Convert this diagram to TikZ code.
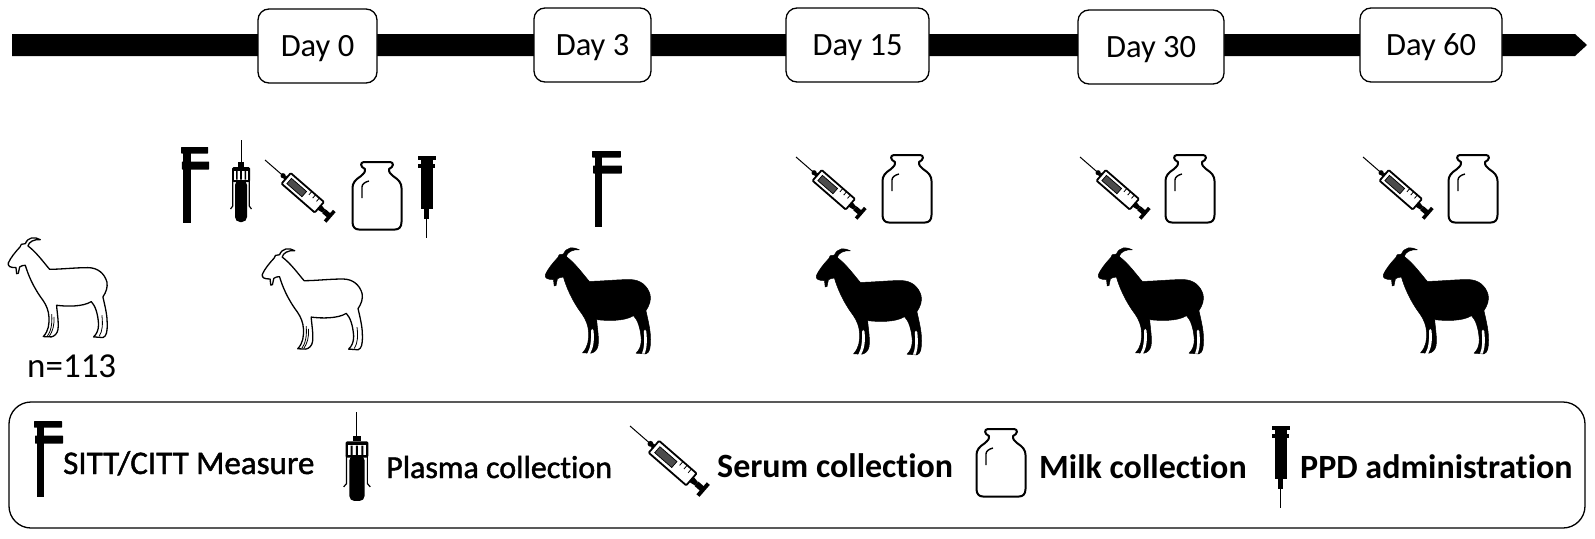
\documentclass[tikz,border=0pt]{standalone}
\usepackage{fontspec}
\setmainfont{Carlito}[Ligatures=NoCommon]
\newfontfamily\medfont{Carlito}[Ligatures=NoCommon,FakeBold=1.4]
\tikzset{
  daybox/.style={draw=black,line width=1.3pt,fill=white,rounded corners=11pt,inner sep=0pt,text height=26pt,text depth=6pt,font=\fontsize{32.5}{32.5}\selectfont},
  legendbox/.style={draw=black,line width=1.3pt,fill=white,rounded corners=22pt,inner sep=0pt},
  ltext/.style={anchor=base west,inner sep=0pt,text=black},
  goatline/.style={draw=black,line width=1.3pt,line join=round,fill=white},
  goatfill/.style={draw=black,line width=.5pt,line join=round,fill=black},
  iconline/.style={draw=black,line width=2pt,line join=round}
}
% goat outline, 300 x 300 units
\newcommand\goatpath{(97,8) .. controls (80,-2) and (60,0) .. (52,20) -- (40,22) -- (36,30)
  .. controls (22,45) and (8,62) .. (1,78) .. controls (-1,88) and (6,92) .. (24,92)
  -- (26,110) -- (31,109) -- (35,90) .. controls (40,86) and (46,85) .. (52,85)
  .. controls (60,112) and (75,150) .. (105,190) .. controls (116,206) and (122,222) .. (123,240)
  .. controls (124,262) and (122,282) .. (106,299) -- (130,300) .. controls (140,298) and (148,290) .. (150,278)
  .. controls (153,255) and (147,225) .. (146,205) .. controls (175,209) and (225,210) .. (250,194)
  .. controls (262,206) and (270,230) .. (272,262) .. controls (272,280) and (266,292) .. (257,300)
  -- (285,302) .. controls (296,298) and (298,285) .. (298,262) .. controls (298,240) and (295,222) .. (285,180)
  .. controls (295,165) and (300,150) .. (297,135) .. controls (290,110) and (270,92) .. (240,92)
  .. controls (200,92) and (160,97) .. (125,97) .. controls (110,80) and (85,45) .. (60,27)
  .. controls (62,15) and (78,6) .. (97,8) -- cycle}
\newcommand\goatwhite[3]{\begin{scope}[shift={(#1,#2)},scale=#3]
  \path[goatline] \goatpath;
  \draw[black,line width=.8pt] (131,232) .. controls (134,262) and (128,285) .. (118,298);
  \draw[black,line width=.8pt] (138,240) .. controls (140,262) and (134,285) .. (124,298);
  \draw[black,line width=.8pt] (282,235) .. controls (285,262) and (284,282) .. (274,298);
\end{scope}}
\newcommand\goatblack[3]{\begin{scope}[shift={(#1,#2)},scale=#3]
  \path[goatfill] \goatpath;
  \fill[white] (130,236) .. controls (131,262) and (129,285) .. (119,302) -- (127,302) .. controls (137,285) and (140,262) .. (137,236) .. controls (136,230) and (131,230) .. (130,236) -- cycle;
  \fill[white] (279,238) .. controls (281,265) and (281,285) .. (274,301) -- (282,301) .. controls (288,285) and (289,262) .. (286,238) .. controls (285,232) and (280,232) .. (279,238) -- cycle;
\end{scope}}
% clamp, 29 x 76
\newcommand\clampicon[4]{\begin{scope}[shift={(#1,#2)},xscale=#3,yscale=#4]
  \fill[black] (2.5,0) rectangle (10,76);
  \fill[black,rounded corners=.5pt] (0,0) rectangle (28,6.5);
  \fill[black,rounded corners=.5pt] (1,14.5) rectangle (29,22.5);
\end{scope}}
% tube, 22 x 82
\newcommand\tubeicon[4]{\begin{scope}[shift={(#1,#2)},xscale=#3,yscale=#4]
  \draw[black,line width=1pt] (11,0) -- (11,24);
  \fill[black] (8,22) -- (14,22) -- (14,27) -- (8,27) -- cycle;
  \fill[black,rounded corners=1.5pt] (2,27) rectangle (20,42);
  \fill[white] (4,30.5) rectangle (18,40);
  \fill[black] (6,31) rectangle (7.5,39.5) (10.2,31) rectangle (11.8,39.5) (14.5,31) rectangle (16,39.5);
  \draw[black,line width=1.2pt] (2.8,40) -- (2.8,66) -- (.5,69);
  \draw[black,line width=1.2pt] (19.2,40) -- (19.2,66) -- (21.5,69);
  \fill[black,rounded corners=5pt] (5,40) -- (17,40) -- (17,82) -- (5,82) -- cycle;
\end{scope}}
% diagonal syringe: needle tip at origin
\newcommand\syr[3]{\begin{scope}[shift={(#1,#2)},scale=#3,rotate=-41]
  \draw[black,line width=1pt] (0,0) -- (22,0);
  \fill[black] (24,0) circle (2.6);
  \fill[black] (26,-2) rectangle (28,2);
  \draw[black,line width=1.8pt,fill=white,rounded corners=1pt] (28,-7) -- (72,-7) -- (72,7) -- (28,7) -- cycle;
  \fill[black!70,draw=black,line width=.7pt] (32,-3.5) rectangle (52,3.5);
  \draw[black,line width=.8pt] (56,-7) -- (56,-2.5) (61,-7) -- (61,-2.5) (66,-7) -- (66,-2.5);
  \fill[black] (72,-3) -- (78,-2) -- (78,2) -- (72,3) -- cycle;
  \fill[black] (78,-2.6) rectangle (85,2.6);
  \fill[black] (84,-7) rectangle (87.5,7);
\end{scope}}
% bottle 50 x 68
\newcommand\bottleicon[2]{\begin{scope}[shift={(#1,#2)}]
  \draw[iconline,fill=white] (12,0) -- (38,0) .. controls (42,0) and (42,5) .. (37,7)
     .. controls (37,11) and (38,11) .. (41,14) .. controls (47,18) and (49.5,21) .. (49.5,26)
     -- (49.5,60) .. controls (49.5,65) and (47,67.5) .. (43,67.5) -- (7,67.5)
     .. controls (3,67.5) and (.5,65) .. (.5,60) -- (.5,26) .. controls (.5,21) and (3,18) .. (9,14)
     .. controls (12,11) and (13,11) .. (13,7) .. controls (8,5) and (8,0) .. (12,0) -- cycle;
  \draw[iconline,line width=1.4pt] (10,36) -- (10,25) .. controls (10,22) and (13,20) .. (17,19);
\end{scope}}
% PPD syringe 18 x 82
\newcommand\ppdicon[2]{\begin{scope}[shift={(#1,#2)}]
  \fill[black] (0,0) rectangle (18,3.5);
  \fill[black] (0,8) rectangle (17,11.5);
  \fill[black] (2.5,0) rectangle (15,53);
  \fill[black] (6,53) rectangle (11,63);
  \draw[black,line width=.8pt] (8.5,63) -- (8.5,82);
\end{scope}}
\begin{document}
\begin{tikzpicture}[x=1pt,y=-1pt]
\useasboundingbox (0,0) rectangle (1595,538);
\fill[white] (0,0) rectangle (1595,538);
\coordinate (tlstart) at (12,45);
\coordinate (tlend) at (1587,45);
\fill[black] (12,34) -- (1575,34) -- (tlend) -- (1575,56) -- (12,56) -- cycle;
\node[daybox,minimum width=119pt,minimum height=74pt] (d0) at (317.5,46) {Day 0};
\node[daybox,minimum width=117pt,minimum height=74pt] (d3) at (592.5,45) {Day 3};
\node[daybox,minimum width=143pt,minimum height=74pt] (d15) at (857.5,45) {Day 15};
\node[daybox,minimum width=146pt,minimum height=74pt] (d30) at (1151,47) {Day 30};
\node[daybox,minimum width=142pt,minimum height=74pt] (d60) at (1431,45) {Day 60};
% day 0 icons
\clampicon{181}{147}{.97}{1}
\tubeicon{230}{140}{1}{1}
\syr{265}{160}{1}
\bottleicon{352}{162}
\ppdicon{418}{156}
% day 3
\clampicon{592}{151}{1.03}{1}
% later days
\syr{796}{157}{1}
\bottleicon{882}{155}
\syr{1080}{157}{1}
\bottleicon{1165}{155}
\syr{1363}{157}{1}
\bottleicon{1448}{155}
% goats
\goatwhite{8}{237}{.333}
\goatwhite{262}{248}{.337}
\goatblack{545}{247}{.354}
\goatblack{816}{248}{.354}
\goatblack{1098}{247}{.354}
\goatblack{1383}{247}{.354}
\node[ltext,font=\fontsize{35}{35}\selectfont] (n) at (27,377) {n=113};
% legend
\node[legendbox,minimum width=1576pt,minimum height=126pt] (legend) at (797,465) {};
\clampicon{34}{421}{1}{1}
\tubeicon{343}{412}{1.27}{1.085}
\syr{630}{426}{1.13}
\bottleicon{976}{429}
\ppdicon{1272}{426}
\node[ltext,font=\fontsize{33}{33}\medfont] (l1) at (63,474) {SITT/CITT Measure};
\node[ltext,font=\fontsize{32}{32}\medfont] (l2) at (386,478) {Plasma collection};
\node[ltext,font=\fontsize{34}{34}\selectfont\bfseries] (l3) at (717,477) {Serum collection};
\node[ltext,font=\fontsize{34}{34}\selectfont\bfseries] (l4) at (1039,478) {Milk collection};
\node[ltext,font=\fontsize{34}{34}\selectfont\bfseries] (l5) at (1300,478) {PPD administration};
\end{tikzpicture}
\end{document}
